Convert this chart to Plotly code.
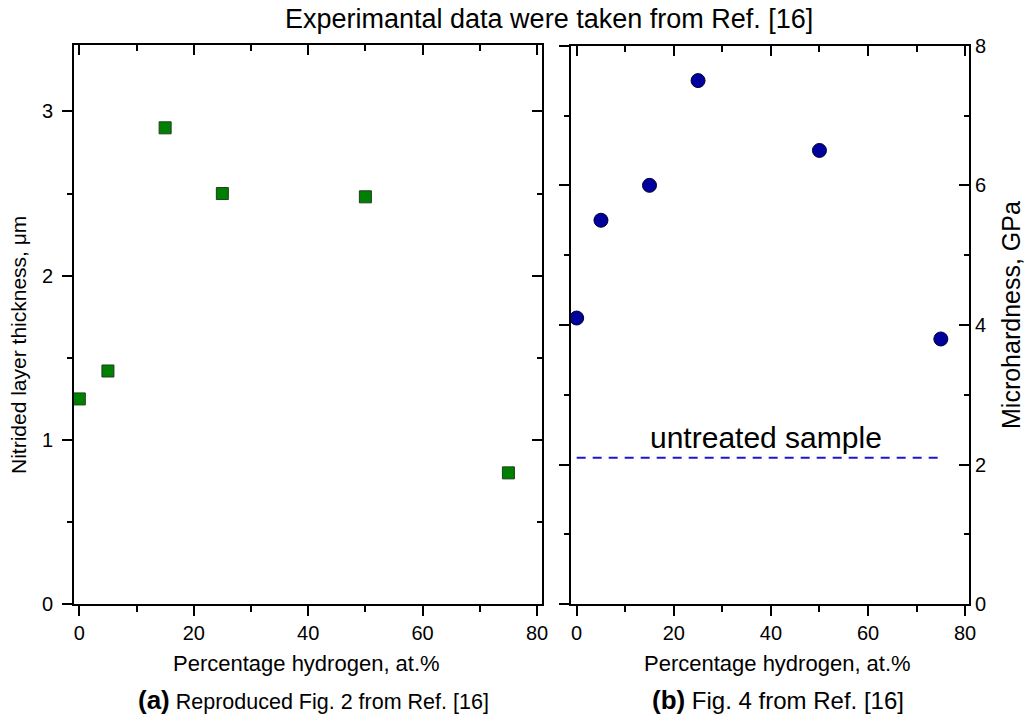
import plotly.graph_objects as go

# Data
h_thick = [0, 5, 15, 25, 50, 75]
thickness = [1.25, 1.42, 2.90, 2.50, 2.48, 0.80]
h_hard = [0, 5, 15, 25, 50, 75]
hardness = [4.1, 5.5, 6.0, 7.5, 6.5, 3.8]
untreated_x = [0, 75]
untreated_y = [2.1, 2.1]

FONT = "Liberation Sans, Arial, sans-serif"
W, H = 1028, 717

def px(v):
    return v / W

def py(v):
    return 1 - v / H

L_dom = [px(74), px(542)]
R_dom = [px(571), px(969)]
Ly_dom = [py(604.3), py(44.7)]
Ry_dom = [py(604.3), py(45.7)]
XR_L = [-0.93, 80.87]
XR_R = [-1.17, 80.8]

fig = go.Figure()
fig.add_trace(go.Scatter(x=h_thick, y=thickness, mode="markers",
                         marker=dict(symbol="square", size=12, color="#008000",
                                     line=dict(color="#1f3d1f", width=1)),
                         xaxis="x", yaxis="y", showlegend=False))
fig.add_trace(go.Scatter(x=untreated_x, y=untreated_y, mode="lines",
                         line=dict(color="#1a1acc", width=2, dash="9px,7px"),
                         xaxis="x3", yaxis="y3", showlegend=False))
fig.add_trace(go.Scatter(x=h_hard, y=hardness, mode="markers",
                         marker=dict(symbol="circle", size=14, color="#00009c",
                                     line=dict(color="#000033", width=1)),
                         xaxis="x3", yaxis="y3", showlegend=False))
# invisible traces so the mirrored (overlaying) axes are drawn
for xa, ya in [("x2", "y2"), ("x4", "y4")]:
    fig.add_trace(go.Scatter(x=[None], y=[None], mode="markers", xaxis=xa, yaxis=ya,
                             showlegend=False, hoverinfo="skip"))

tickfont = dict(family=FONT, size=20, color="black")
common = dict(showgrid=False, zeroline=False, showline=True, linecolor="black",
              linewidth=2, tickcolor="black", tickwidth=2, tickfont=tickfont,
              automargin=False)

def xax(dom, rng, anchor, side, ticks, labels, overlay=None):
    d = dict(common, domain=dom, range=rng, anchor=anchor, side=side,
             ticks=ticks, ticklen=10, tickmode="array",
             tickvals=[0, 20, 40, 60, 80], showticklabels=labels,
             minor=dict(ticks=ticks, ticklen=6, tickvals=[10, 30, 50, 70],
                        tickcolor="black", tickwidth=2))
    if overlay:
        d["overlaying"] = overlay
        d.pop("domain")
    return d

def yax(dom, rng, anchor, side, ticks, labels, major, minor, overlay=None,
        standoff=None):
    d = dict(common, domain=dom, range=rng, anchor=anchor, side=side,
             ticks=ticks, ticklen=10, tickmode="array", tickvals=major,
             showticklabels=labels,
             minor=dict(ticks=ticks, ticklen=5, tickvals=minor,
                        tickcolor="black", tickwidth=2))
    if standoff is not None:
        d["ticklabelstandoff"] = standoff
    if overlay:
        d["overlaying"] = overlay
        d.pop("domain")
    return d

fig.update_layout(
    width=W, height=H, margin=dict(l=0, r=0, t=0, b=0, autoexpand=False),
    paper_bgcolor="white", plot_bgcolor="white",
    font=dict(family=FONT, color="black"),
    xaxis=xax(L_dom, XR_L, "y", "bottom", "outside", True),
    xaxis2=xax(L_dom, XR_L, "y2", "top", "inside", False, overlay="x"),
    yaxis=yax(Ly_dom, [0, 3.406], "x", "left", "outside", True,
              [0, 1, 2, 3], [0.5, 1.5, 2.5], standoff=5),
    yaxis2=yax(Ly_dom, [0, 3.406], "x2", "right", "inside", False,
               [0, 1, 2, 3], [0.5, 1.5, 2.5], overlay="y"),
    xaxis3=xax(R_dom, XR_R, "y3", "bottom", "outside", True),
    xaxis4=xax(R_dom, XR_R, "y4", "top", "inside", False, overlay="x3"),
    yaxis3=yax(Ry_dom, [0, 8], "x3", "left", "outside", False,
               [0, 2, 4, 6, 8], [1, 3, 5, 7]),
    yaxis4=yax(Ry_dom, [0, 8], "x4", "right", "inside", True,
               [0, 2, 4, 6, 8], [1, 3, 5, 7], overlay="y3"),
)

ann = [
    dict(text="Experimantal data were taken from Ref. [16]", x=px(549), y=py(19),
         font=dict(size=27)),
    dict(text="Percentage hydrogen, at.%", x=px(306), y=py(663), font=dict(size=22)),
    dict(text="Percentage hydrogen, at.%", x=px(777), y=py(663), font=dict(size=22)),
    dict(text="<b><span style='font-size:26px'>(a)</span></b> Reproduced Fig. 2 from Ref. [16]",
         x=px(313), y=py(700), font=dict(size=21.5)),
    dict(text="<b><span style='font-size:26px'>(b)</span></b> Fig. 4 from Ref. [16]",
         x=px(778), y=py(700), font=dict(size=24)),
    dict(text="Nitrided layer thickness, \u03bcm", x=px(18), y=py(345),
         textangle=-90, font=dict(size=21)),
    dict(text="Microhardness, GPa", x=px(1011), y=py(315),
         textangle=-90, font=dict(size=25)),
]
for a in ann:
    a.update(xref="paper", yref="paper", showarrow=False,
             xanchor="center", yanchor="middle")
    a["font"] = dict(a["font"], family=FONT, color="black")
    fig.add_annotation(**a)

fig.add_annotation(text="untreated sample", x=39, y=2.39, xref="x3", yref="y3",
                   showarrow=False, xanchor="center", yanchor="middle",
                   font=dict(family=FONT, size=30, color="black"))

fig.write_html("out.html")
